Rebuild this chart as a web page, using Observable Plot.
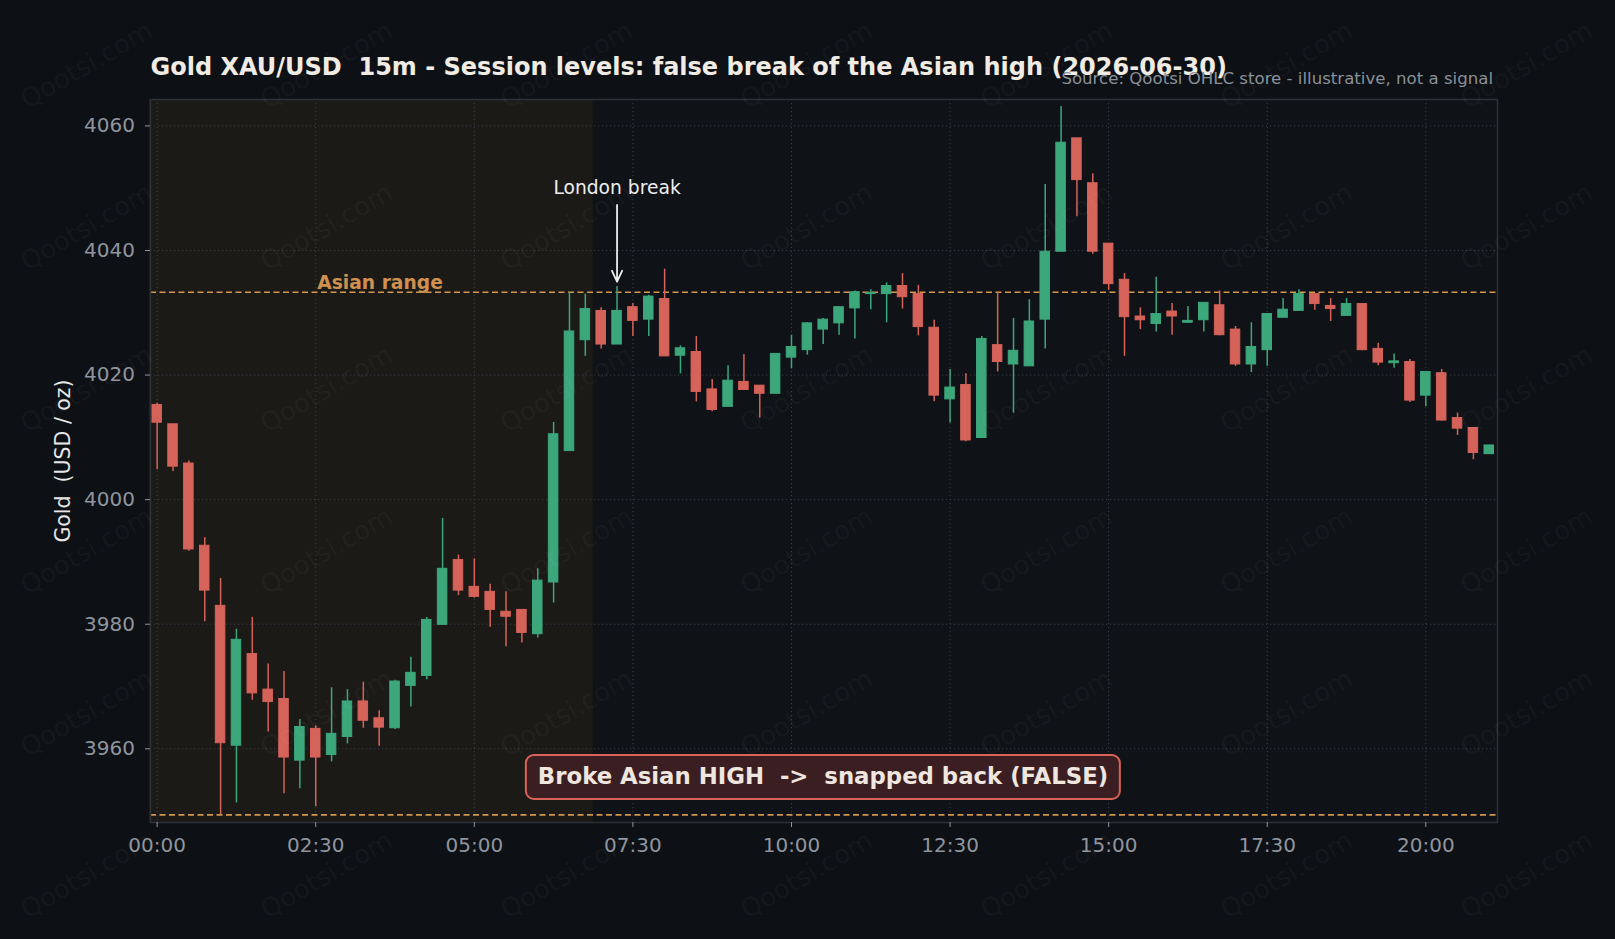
<!DOCTYPE html>
<html><head><meta charset="utf-8">
<script src="https://cdn.jsdelivr.net/npm/d3@7"></script>
<script src="https://cdn.jsdelivr.net/npm/@observablehq/plot@0.6"></script>
<style>
html,body{margin:0;padding:0;background:#0d1014;}
#wrap{position:relative;width:1615px;height:939px;overflow:hidden;font-family:"DejaVu Sans",sans-serif;background:#0d1014;}
#wrap svg{position:absolute;left:0;top:0;}
#box{position:absolute;left:823px;top:754px;transform:translateX(-50%);height:46px;box-sizing:border-box;padding:0 11px;border:2.5px solid #d9625a;border-radius:9px;background:#3a1e22;color:#efe6df;font-weight:bold;font-size:22.8px;line-height:41px;white-space:pre;}
</style></head><body><div id="wrap"></div><script>
// ---- data (15m candles, 00:00 .. 21:00) ----
const opens  = [4015.2,4012.1,4005.8,3992.6,3982.95,3960.5,3975.2,3969.5,3968.0,3958.1,3963.2,3959.0,3961.9,3967.6,3964.9,3963.3,3970.1,3971.7,3979.9,3990.3,3986.0,3985.2,3982.0,3982.3,3978.4,3986.7,4007.8,4025.6,4030.3,4024.9,4030.9,4028.9,4032.2,4023.1,4023.7,4017.7,4014.9,4018.9,4018.3,4017.0,4022.8,4024.0,4027.3,4028.3,4030.7,4033.0,4033.0,4034.3,4033.0,4027.6,4016.1,4018.4,4009.9,4024.8,4021.7,4021.4,4028.9,4039.8,4058.0,4050.8,4041.1,4035.3,4029.4,4028.2,4030.2,4028.4,4028.8,4031.2,4027.3,4021.7,4024.0,4029.2,4030.3,4033.0,4031.1,4029.5,4031.4,4024.2,4021.9,4022.1,4016.7,4020.3,4013.1,4011.5,4007.3];
const highs  = [4015.5,4012.1,4006.2,3993.9,3987.35,3979.2,3981.1,3973.6,3972.4,3964.7,3963.7,3969.8,3969.5,3970.7,3966.1,3971.0,3974.7,3981.1,3997.0,3991.1,3990.5,3986.4,3985.2,3982.3,3988.9,4012.4,4033.3,4033.0,4030.8,4034.2,4031.5,4032.8,4037.0,4024.7,4026.2,4019.3,4021.5,4023.3,4018.3,4023.4,4026.4,4028.4,4029.1,4030.9,4033.5,4033.7,4034.8,4036.3,4034.4,4028.8,4020.9,4020.2,4026.2,4033.3,4029.1,4032.1,4050.6,4063.1,4058.0,4052.3,4041.1,4036.3,4030.8,4035.7,4031.5,4031.0,4031.6,4033.5,4027.8,4028.4,4029.8,4032.3,4033.7,4033.0,4032.3,4032.3,4031.4,4025.1,4023.4,4022.5,4020.5,4020.9,4013.9,4011.5,4008.7];
const lows   = [4004.8,4004.5,3991.7,3980.4,3949.4,3951.3,3967.8,3962.7,3952.8,3953.6,3950.7,3957.9,3960.8,3963.3,3960.4,3963.1,3966.7,3971.1,3979.9,3984.6,3984.2,3979.5,3976.4,3977.0,3977.8,3983.4,4007.8,4023.0,4024.2,4024.9,4026.2,4026.2,4023.0,4020.2,4015.7,4014.1,4014.9,4017.6,4013.1,4017.0,4021.0,4023.2,4024.9,4026.4,4025.8,4030.5,4028.4,4030.6,4026.3,4015.7,4012.3,4009.3,4009.9,4020.5,4013.9,4021.4,4024.2,4039.8,4045.4,4039.4,4033.6,4023.0,4027.3,4026.9,4026.4,4028.4,4026.9,4026.3,4021.4,4020.4,4021.4,4029.2,4030.3,4030.4,4028.6,4029.5,4023.9,4021.5,4021.1,4015.6,4014.9,4012.6,4010.3,4006.4,4007.3];
const closes = [4012.35,4005.3,3992.0,3985.4,3960.9,3977.5,3968.9,3967.5,3958.6,3963.5,3958.6,3962.4,3967.6,3964.5,3963.4,3970.8,3972.2,3980.7,3988.9,3985.4,3984.4,3982.3,3981.2,3978.6,3987.0,4010.5,4027.0,4030.6,4024.9,4030.3,4028.7,4032.6,4023.0,4024.3,4017.3,4014.4,4019.1,4017.6,4017.0,4023.4,4024.5,4028.3,4028.9,4030.9,4033.3,4033.2,4034.3,4032.5,4027.7,4016.7,4018.0,4009.5,4025.8,4022.1,4023.9,4028.6,4039.8,4057.3,4051.3,4039.8,4034.6,4029.3,4028.8,4029.8,4029.4,4028.7,4031.6,4026.4,4021.7,4024.5,4029.8,4030.5,4033.0,4031.4,4030.6,4031.4,4024.0,4022.0,4022.2,4015.9,4020.5,4012.7,4011.4,4007.5,4008.7];

const xTickIndex  = [0,10,20,30,40,50,60,70,80];
const xTickLabels = ["00:00","02:30","05:00","07:30","10:00","12:30","15:00","17:30","20:00"];
const yTicks      = [3960,3980,4000,4020,4040,4060];

const asianSession = {first: 0, last: 27};      // candle indices 00:00 .. 06:45
const londonBreak  = {index: 29, label: "London break", textY: 4049.0, arrowFrom: 4047.3};
const asianLabel   = {index: 10, text: "Asian range"};

const titleText  = "Gold XAU/USD  15m - Session levels: false break of the Asian high (2026-06-30)";
const sourceText = "Source: Qootsi OHLC store - illustrative, not a signal";
const yLabelText = "Gold  (USD / oz)";
const boxText    = "Broke Asian HIGH  ->  snapped back (FALSE)";

// ---- derived table ----
const candles = opens.map((o, i) => ({i, open: o, high: highs[i], low: lows[i], close: closes[i], up: closes[i] >= o}));
const asian = candles.slice(asianSession.first, asianSession.last + 1);
const asianHigh = d3.max(asian, d => d.high);
const asianLow  = d3.min(asian, d => d.low);

const GREEN = "#3da77c", RED = "#d5635a", ORANGE = "#d4964f";
const col = d => d.up ? GREEN : RED;
const half = 0.3;

const plot = Plot.plot({
  width: 1615, height: 939,
  marginLeft: 150, marginRight: 118, marginTop: 99, marginBottom: 117,
  style: {background: "transparent", fontFamily: "DejaVu Sans, sans-serif"},
  x: {type: "linear", domain: [-0.42, 84.52]},
  y: {type: "linear", domain: [3948.17, 4064.24]},
  marks: [
    Plot.frame({fill: "#0f1216"}),
    Plot.rect([asianSession], {x1: d => d.first - 0.5, x2: d => d.last + 0.5, fill: "#1c1a17"}),
    Plot.gridX(xTickIndex, {stroke: "#3a3f48", strokeOpacity: 1, strokeDasharray: "1.2,2.8", strokeWidth: 1}),
    Plot.gridY(yTicks, {stroke: "#3a3f48", strokeOpacity: 1, strokeDasharray: "1.2,2.8", strokeWidth: 1}),
    Plot.ruleY([asianHigh, asianLow], {stroke: ORANGE, strokeDasharray: "6,3.5", strokeWidth: 1.7}),
    Plot.ruleX(candles, {x: "i", y1: "low", y2: "high", stroke: col, strokeWidth: 1.5}),
    Plot.rect(candles, {x1: d => d.i - half, x2: d => d.i + half, y1: "open", y2: "close", fill: col, stroke: col, strokeWidth: 1}),
    Plot.text([asianLabel], {x: d => d.index, y: () => asianHigh, text: "text", textAnchor: "start", lineAnchor: "bottom", dx: 1.5, dy: -3, fill: "#cf9050", fontWeight: "bold", fontSize: 18.7}),
    Plot.text([londonBreak], {x: "index", y: "textY", text: "label", textAnchor: "middle", lineAnchor: "bottom", fill: "#eeeeee", fontSize: 18.7}),
    Plot.arrow([londonBreak], {x1: "index", x2: "index", y1: "arrowFrom", y2: d => highs[d.index] + 0.8, stroke: "#eeeeee", strokeWidth: 1.8, headLength: 10, headAngle: 50}),
    Plot.frame({stroke: "#2d3139", strokeWidth: 1.5}),
    Plot.axisX({ticks: xTickIndex, tickFormat: (d, k) => xTickLabels[k], tickSize: 5, tickPadding: 10, color: "#8f959e", fontSize: 20, label: null}),
    Plot.axisY({ticks: yTicks, tickFormat: d => String(d), tickSize: 5, tickPadding: 10.5, color: "#8f959e", fontSize: 20, label: null}),
    Plot.text([yLabelText], {frameAnchor: "left", text: d => d, rotate: -90, dx: -87, fill: "#e6e6e6", fontSize: 20.5, textAnchor: "middle", lineAnchor: "middle"}),
    Plot.text([titleText], {frameAnchor: "top-left", text: d => d, textAnchor: "start", lineAnchor: "bottom", dy: -24.7, fill: "#f0ece4", fontWeight: "bold", fontSize: 24}),
    Plot.text([sourceText], {frameAnchor: "top-right", text: d => d, textAnchor: "end", lineAnchor: "bottom", dx: -4.5, dy: -15.7, fill: "#8a9099", fontSize: 16.6})
  ]
});
const wrap = document.getElementById("wrap");
wrap.appendChild(plot);

// annotation box
const box = document.createElement("div");
box.id = "box"; box.textContent = boxText;
wrap.appendChild(box);

// watermark overlay
const wm = d3.create("svg").attr("width", 1615).attr("height", 939).style("pointer-events", "none");
for (let r = 0; r < 6; r++) for (let c = 0; c < 7; c++) {
  wm.append("text").attr("transform", `translate(${87 + 240 * c},${66 + 162 * r}) rotate(-30)`)
    .attr("text-anchor", "middle").attr("dominant-baseline", "middle")
    .attr("font-family", "DejaVu Sans, sans-serif").attr("font-size", 26)
    .attr("fill", "#ffffff").attr("fill-opacity", 0.045).text("Qootsi.com");
}
wrap.appendChild(wm.node());
</script></body></html>
